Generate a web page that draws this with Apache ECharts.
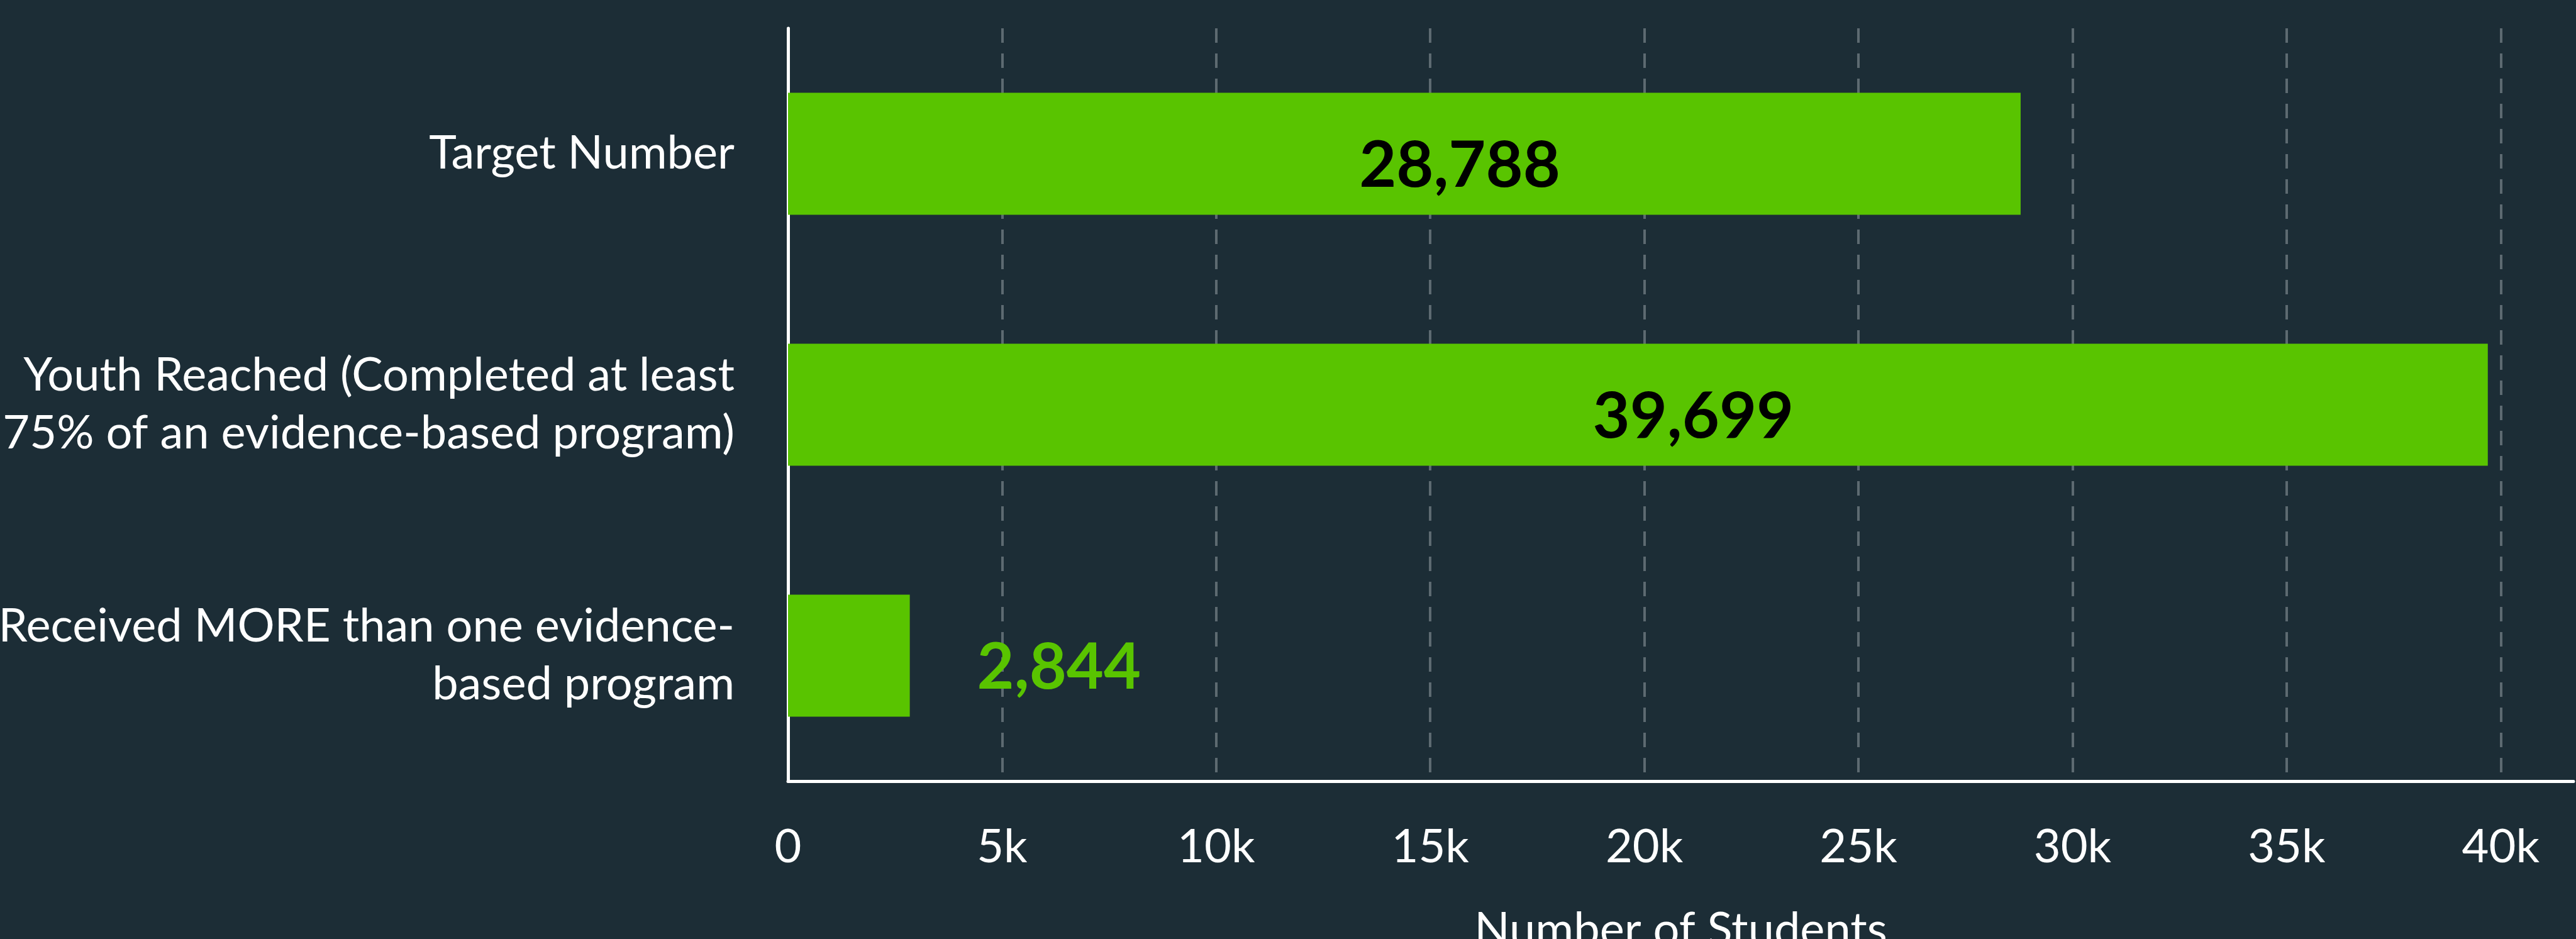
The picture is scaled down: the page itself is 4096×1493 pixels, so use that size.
<!DOCTYPE html>
<html>
<head>
<meta charset="utf-8">
<script src="https://cdn.jsdelivr.net/npm/echarts@6/dist/echarts.min.js"></script>
<style>
    html, body { margin: 0; padding: 0; background: #1c2d36; }
    #chart { width: 4096px; height: 1493px; }
</style>
</head>
<body>
<div id="chart"></div>
<script>
// categories, top to bottom
const categories = [
    "Target Number",
    "Youth Reached (Completed at least\n75% of an evidence-based program)",
    "Received MORE than one evidence-\nbased program",
];
const students = [28788, 39699, 2844];
const axisMax = 41700;
const tickStep = 5000;

const chart = echarts.init(document.getElementById("chart"));

const green = "#59c400";
const font = "Lato";

chart.setOption({
    backgroundColor: "#1c2d36",
    animation: false,
    grid: {
        left: 1253,
        right: 4,
        top: 45,
        bottom: 251,
        containLabel: false,
        outerBoundsMode: "none",
    },
    xAxis: {
        type: "value",
        min: 0,
        max: axisMax,
        interval: tickStep,
        name: "Number of Students",
        nameLocation: "middle",
        nameGap: 200,
        nameTextStyle: { color: "#ffffff", fontSize: 74, fontFamily: font },
        axisLine: { show: true, lineStyle: { color: "#ffffff", width: 5 } },
        axisTick: { show: false },
        axisLabel: {
            color: "#ffffff",
            fontSize: 74,
            fontFamily: font,
            margin: 68,
            showMaxLabel: false,
            formatter: function (v) {
                return v === 0 ? "0" : v / 1000 + "k";
            },
        },
        splitLine: {
            show: true,
            showMinLine: false,
            showMaxLine: false,
            lineStyle: { color: "#5d6a71", width: 4, type: [23, 17] },
        },
    },
    yAxis: {
        type: "category",
        inverse: true,
        data: categories,
        axisLine: { show: true, lineStyle: { color: "#ffffff", width: 5 } },
        axisTick: { show: false },
        axisLabel: {
            color: "#ffffff",
            fontSize: 74,
            lineHeight: 92,
            fontFamily: font,
            margin: 85,
            align: "right",
            padding: [16, 0, 0, 0],
        },
        splitLine: { show: false },
    },
    series: [
        {
            type: "bar",
            barWidth: 194,
            itemStyle: { color: green },
            label: {
                show: true,
                position: "inside",
                offset: [88, 20],
                color: "#000000",
                fontSize: 102,
                fontWeight: "bold",
                fontFamily: font,
                formatter: function (p) {
                    return p.value.toLocaleString("en-US");
                },
            },
            // short bars get their label outside, in green
            data: students.map(function (v) {
                if (v >= tickStep) return v;
                return {
                    value: v,
                    label: { position: "right", distance: 107, offset: [0, 20], color: green },
                };
            }),
        },
    ],
});
</script>
</body>
</html>
